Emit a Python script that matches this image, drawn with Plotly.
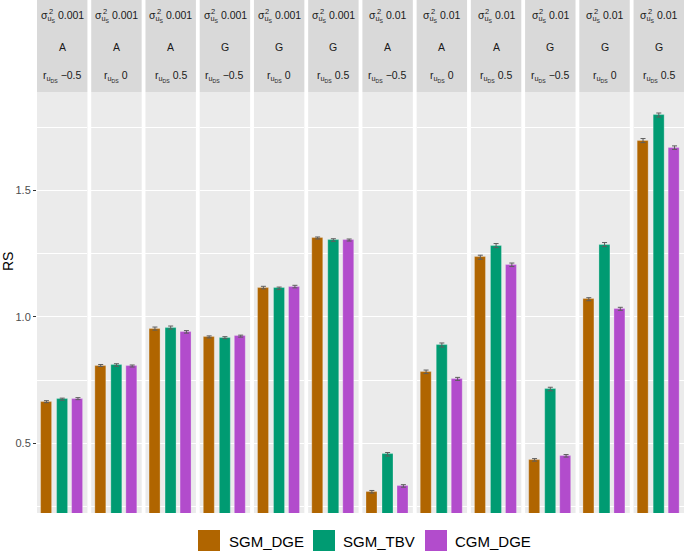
import plotly.graph_objects as go
from plotly.subplots import make_subplots

# ---------------- data ----------------
methods = ["SGM_DGE", "SGM_TBV", "CGM_DGE"]
colors = ["#B06500", "#009B72", "#B24CCC"]

sigma_labels = ["0.001"] * 6 + ["0.01"] * 6
effect_labels = ["A", "A", "A", "G", "G", "G"] * 2
r_labels = ["\u22120.5", "0", "0.5"] * 4

SGM_DGE = [0.665, 0.808, 0.954, 0.921, 1.116, 1.312, 0.309, 0.783, 1.236, 0.435, 1.070, 1.697]
SGM_TBV = [0.675, 0.810, 0.958, 0.918, 1.113, 1.304, 0.457, 0.889, 1.282, 0.715, 1.286, 1.798]
CGM_DGE = [0.677, 0.806, 0.941, 0.924, 1.120, 1.304, 0.332, 0.755, 1.206, 0.451, 1.032, 1.669]

SE_SGM_DGE = [0.004, 0.004, 0.006, 0.004, 0.005, 0.004, 0.005, 0.007, 0.008, 0.005, 0.006, 0.008]
SE_SGM_TBV = [0.004, 0.005, 0.006, 0.004, 0.005, 0.005, 0.007, 0.008, 0.008, 0.007, 0.008, 0.008]
SE_CGM_DGE = [0.004, 0.004, 0.005, 0.004, 0.005, 0.004, 0.005, 0.006, 0.007, 0.005, 0.006, 0.007]

y_ticks = [0.5, 1.0, 1.5]
y_tick_text = ["0.5", "1.0", "1.5"]
y_minor = [0.25, 0.75, 1.25, 1.75]
y_range = [0.225, 1.889]

# ---------------- layout geometry ----------------
W, H = 685, 553
ML, MR, MT, MB = 37, 1, 92, 40
PW = W - ML - MR
PH = H - MT - MB
GAP = 3.8
n = len(SGM_DGE)

FONT = "Liberation Sans, Arial, Helvetica, sans-serif"

fig = make_subplots(rows=1, cols=n, shared_yaxes=True, horizontal_spacing=GAP / PW)

for i in range(n):
    vals = [SGM_DGE[i], SGM_TBV[i], CGM_DGE[i]]
    errs = [SE_SGM_DGE[i], SE_SGM_TBV[i], SE_CGM_DGE[i]]
    fig.add_trace(
        go.Bar(
            x=methods, y=vals, width=0.7,
            marker=dict(color=colors, line=dict(color="rgba(255,255,255,0.35)", width=0.8)),
            error_y=dict(type="data", array=errs, color="#5E5E5E", thickness=1, width=2.5),
            showlegend=False, hoverinfo="x+y",
        ),
        row=1, col=i + 1,
    )
    fig.update_xaxes(range=[-0.6, 2.6], showticklabels=False, showgrid=False,
                     zeroline=False, ticks="", showline=False, row=1, col=i + 1)

fig.update_yaxes(
    range=y_range, tickvals=y_ticks, ticktext=y_tick_text,
    showgrid=True, gridcolor="white", gridwidth=1.1, zeroline=False, showline=False,
    minor=dict(tickvals=y_minor, showgrid=True, gridcolor="white", gridwidth=0.5, ticks=""),
)
fig.update_yaxes(ticks="outside", ticklen=3, tickwidth=1, tickcolor="#333333", automargin=False,
                 tickfont=dict(family=FONT, size=11, color="#4D4D4D"), row=1, col=1)

shapes = []
annotations = []
strip_top = 1 + MT / PH + 0.01

def py(pix):
    return (H - MB - pix) / PH

def px(pix):
    return (pix - ML) / PW

panel_w = (PW - GAP * (n - 1)) / n
for i in range(n):
    xd = "x domain" if i == 0 else f"x{i + 1} domain"
    shapes.append(dict(type="rect", xref=xd, yref="paper", x0=0, x1=1, y0=1, y1=strip_top,
                       fillcolor="#D9D9D9", line=dict(width=0), layer="below"))
    off = 2.0 if sigma_labels[i] == "0.001" else 4.8
    annotations.append(dict(
        xref=xd, yref="paper", x=off / panel_w, y=py(16), xanchor="left", yanchor="middle",
        text="σ<sub>u<sub>S</sub></sub> " + sigma_labels[i], showarrow=False,
        font=dict(family=FONT, size=10.5, color="#1A1A1A")))
    annotations.append(dict(
        xref=xd, yref="paper", x=(off + 7.5) / panel_w, y=py(11), xanchor="left", yanchor="middle",
        text="2", showarrow=False,
        font=dict(family=FONT, size=7.5, color="#1A1A1A")))
    annotations.append(dict(
        xref=xd, yref="paper", x=0.5, y=py(47), xanchor="center", yanchor="middle",
        text=effect_labels[i], showarrow=False,
        font=dict(family=FONT, size=10.5, color="#1A1A1A")))
    annotations.append(dict(
        xref=xd, yref="paper", x=0.5, y=py(76), xanchor="center", yanchor="middle",
        text="r<sub>u<sub>DS</sub></sub> " + r_labels[i], showarrow=False,
        font=dict(family=FONT, size=10.5, color="#1A1A1A")))

# y axis title
annotations.append(dict(xref="paper", yref="paper", x=px(8), y=py(262), xanchor="center",
                        yanchor="middle", text="RS", textangle=-90, showarrow=False,
                        font=dict(family=FONT, size=14, color="black")))

# manual legend
key_x = [198, 313, 425]
text_x = [227, 341, 453]
for k, m in enumerate(methods):
    shapes.append(dict(type="rect", xref="paper", yref="paper",
                       x0=px(key_x[k]), x1=px(key_x[k] + 22), y0=py(551), y1=py(530),
                       fillcolor=colors[k], line=dict(width=0)))
    annotations.append(dict(xref="paper", yref="paper", x=px(text_x[k]), y=py(541),
                            xanchor="left", yanchor="middle", text=m, showarrow=False,
                            font=dict(family=FONT, size=15, color="black")))

fig.update_layout(
    width=W, height=H,
    margin=dict(l=ML, r=MR, t=MT, b=MB),
    paper_bgcolor="white", plot_bgcolor="#EBEBEB",
    bargap=0, showlegend=False,
    shapes=shapes, annotations=annotations,
    font=dict(family=FONT),
)

fig.write_html("out.html", config={"displayModeBar": False},
               post_script="document.body.style.margin='0';document.body.style.padding='0';")
